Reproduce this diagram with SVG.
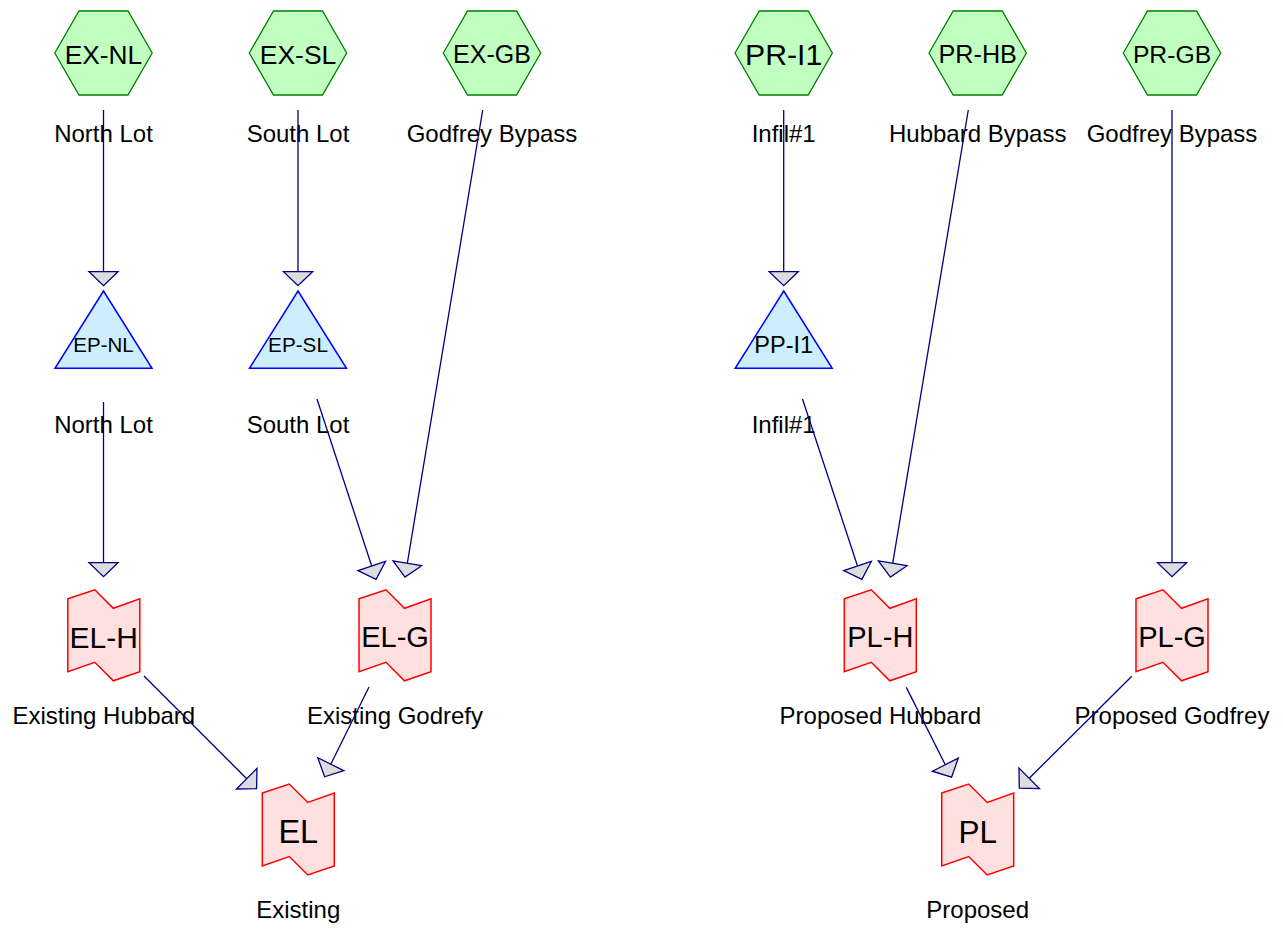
<svg xmlns="http://www.w3.org/2000/svg" width="1283" height="930" viewBox="0 0 1283 930">
<style>
text{font-family:"Liberation Sans",Arial,sans-serif;fill:#000;text-anchor:middle}
.lbl{font-size:24px}
.hex{fill:#c0ffc0;stroke:#008000;stroke-width:1.3}
.tri{fill:#cceeff;stroke:#0000ff;stroke-width:1.5}
.tape{fill:#ffe0e0;stroke:#ff0000;stroke-width:1.5}
.edge{stroke:#000080;stroke-width:1.3;fill:none;marker-end:url(#ah)}
</style>
<defs>
<marker id="ah" markerUnits="userSpaceOnUse" orient="auto" refX="0" refY="0" markerWidth="18" markerHeight="34" viewBox="-2 -17 18 34" overflow="visible">
<path d="M0,-14.5 L14,0 L0,14.5 Z" fill="#dddddd" stroke="#000080" stroke-width="1.3" stroke-linejoin="miter"/>
</marker>
<polygon id="hexS" points="-48.7,0 -24.5,-42 24.5,-42 48.7,0 24.5,42 -24.5,42"/>
<polygon id="triS" points="0,-39 48.5,38.3 -48.5,38.3"/>
<polygon id="tapeS" points="-36,-36.5 -9,-45.5 9.5,-27 36,-36.5 36,36.5 9.5,45.5 -9,27 -36,36.5"/>
</defs>
<g id="nodes">
<g id="EX-NL"><use href="#hexS" class="hex" x="103.5" y="53"/><text x="103.5" y="63.5" style="font-size:26.3px">EX-NL</text><text class="lbl" x="103.5" y="142">North Lot</text></g>
<g id="EX-SL"><use href="#hexS" class="hex" x="298" y="53"/><text x="298" y="63.5" style="font-size:26.5px">EX-SL</text><text class="lbl" x="298" y="142">South Lot</text></g>
<g id="EX-GB"><use href="#hexS" class="hex" x="492" y="53"/><text x="492" y="63" style="font-size:25px">EX-GB</text><text class="lbl" x="492" y="142">Godfrey Bypass</text></g>
<g id="PR-I1"><use href="#hexS" class="hex" x="783.7" y="53"/><text x="783.7" y="65" style="font-size:30.2px">PR-I1</text><text class="lbl" x="783.7" y="142">Infil#1</text></g>
<g id="PR-HB"><use href="#hexS" class="hex" x="977.7" y="53"/><text x="977.7" y="63" style="font-size:25.2px">PR-HB</text><text class="lbl" x="977.7" y="142">Hubbard Bypass</text></g>
<g id="PR-GB"><use href="#hexS" class="hex" x="1172" y="53"/><text x="1172" y="63" style="font-size:24.7px">PR-GB</text><text class="lbl" x="1172" y="142">Godfrey Bypass</text></g>

<g id="EP-NL"><use href="#triS" class="tri" x="103.5" y="330"/><text x="103.5" y="352.3" style="font-size:20.5px">EP-NL</text><text class="lbl" x="103.5" y="433">North Lot</text></g>
<g id="EP-SL"><use href="#triS" class="tri" x="298" y="330"/><text x="298" y="352.3" style="font-size:20.7px">EP-SL</text><text class="lbl" x="298" y="433">South Lot</text></g>
<g id="PP-I1"><use href="#triS" class="tri" x="783.7" y="330"/><text x="783.7" y="353" style="font-size:23.5px">PP-I1</text><text class="lbl" x="783.7" y="433">Infil#1</text></g>

<g id="EL-H"><use href="#tapeS" class="tape" x="103.8" y="635.3"/><text x="103.8" y="647.5" style="font-size:30px">EL-H</text><text class="lbl" x="103.8" y="724.3">Existing Hubbard</text></g>
<g id="EL-G"><use href="#tapeS" class="tape" x="395" y="635.3"/><text x="395" y="647.3" style="font-size:29px">EL-G</text><text class="lbl" x="395" y="724.3">Existing Godrefy</text></g>
<g id="PL-H"><use href="#tapeS" class="tape" x="880.3" y="635.3"/><text x="880.3" y="647.3" style="font-size:29px">PL-H</text><text class="lbl" x="880.3" y="724.3">Proposed Hubbard</text></g>
<g id="PL-G"><use href="#tapeS" class="tape" x="1172" y="635.3"/><text x="1172" y="647.3" style="font-size:29px">PL-G</text><text class="lbl" x="1172" y="724.3">Proposed Godfrey</text></g>
<g id="EL"><use href="#tapeS" class="tape" x="298.3" y="829.5"/><text x="298.3" y="842.5" style="font-size:32.5px">EL</text><text class="lbl" x="298.3" y="918.3">Existing</text></g>
<g id="PL"><use href="#tapeS" class="tape" x="977.7" y="829.5"/><text x="977.7" y="842.5" style="font-size:31.5px">PL</text><text class="lbl" x="977.7" y="918.3">Proposed</text></g>
</g>
<g id="connectors">
<line class="edge" x1="103.5" y1="110" x2="103.5" y2="271.7"/>
<line class="edge" x1="298" y1="110" x2="298" y2="271.7"/>
<line class="edge" x1="482.7" y1="110" x2="407.3" y2="563.3"/>
<line class="edge" x1="103.5" y1="402" x2="103.5" y2="562.7"/>
<line class="edge" x1="317" y1="399" x2="371.7" y2="566"/>
<line class="edge" x1="144" y1="676" x2="246.7" y2="778.7"/>
<line class="edge" x1="369" y1="687" x2="330.8" y2="764.2"/>
<line class="edge" x1="783.7" y1="110" x2="783.7" y2="271.7"/>
<line class="edge" x1="968.3" y1="110" x2="892.7" y2="563.3"/>
<line class="edge" x1="802.5" y1="399" x2="857.5" y2="566"/>
<line class="edge" x1="1172" y1="110" x2="1172" y2="562.7"/>
<line class="edge" x1="906.3" y1="687.4" x2="945.3" y2="764.7"/>
<line class="edge" x1="1131.8" y1="676.2" x2="1029.2" y2="778.3"/>
</g>
</svg>
